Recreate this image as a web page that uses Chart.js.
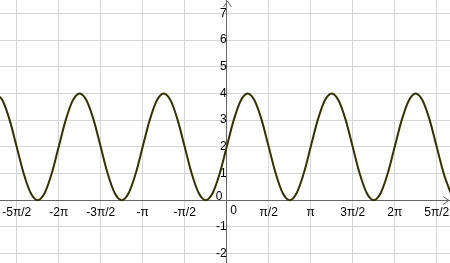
<!DOCTYPE html>
<html>
<head>
<meta charset="utf-8">
<script src="https://cdn.jsdelivr.net/npm/chart.js@4"></script>
<style>
html,body{margin:0;padding:0;background:#fff;}
#wrap{width:450px;height:263px;position:relative;}
</style>
</head>
<body>
<div id="wrap"><canvas id="c" width="450" height="263"></canvas></div>
<script>
const xValues = [
  -8.639,-8.378,-8.116,-7.854,-7.592,-7.330,-7.069,-6.807,-6.545,
  -6.283,-6.021,-5.760,-5.498,-5.236,-4.974,-4.712,-4.451,-4.189,-3.927,-3.665,-3.403,
  -3.142,-2.880,-2.618,-2.356,-2.094,-1.833,-1.571,-1.309,-1.047,-0.785,-0.524,-0.262,
  0,0.262,0.524,0.785,1.047,1.309,1.571,1.833,2.094,2.356,2.618,2.880,
  3.142,3.403,3.665,3.927,4.189,4.451,4.712,4.974,5.236,5.498,5.760,6.021,
  6.283,6.545,6.807,7.069,7.330,7.592,7.854,8.116,8.378
];
// y values of the curve at those positions
const yValues = [
  4,3.73,3,2,1,0.27,0,0.27,1,
  2,3,3.73,4,3.73,3,2,1,0.27,0,0.27,1,
  2,3,3.73,4,3.73,3,2,1,0.27,0,0.27,1,
  2,3,3.73,4,3.73,3,2,1,0.27,0,0.27,1,
  2,3,3.73,4,3.73,3,2,1,0.27,0,0.27,1,
  2,3,3.73,4,3.73,3,2,1,0.27
];
// axis ticks
const xTickValues = [-7.854,-6.283,-4.712,-3.142,-1.571,0,1.571,3.142,4.712,6.283,7.854];
const xTickLabels = ['-5π/2','-2π','-3π/2','-π','-π/2','','π/2','π','3π/2','2π','5π/2'];
const yTickValues = [-2,-1,0,1,2,3,4,5,6,7];
const yTickLabels = ['-2','-1','','1','2','3','4','5','6','7'];

const points = xValues.map((x, i) => ({x: x, y: yValues[i]}));

const AXIS_COLOR = '#666666';
const GRID_COLOR = '#d6d6d6';
const FONT = {family: '"Liberation Sans", Arial, sans-serif', size: 12};

function noPad(scale) {
  scale.paddingTop = 0; scale.paddingBottom = 0;
  scale.paddingLeft = 0; scale.paddingRight = 0;
}

const axisDecor = {
  id: 'axisDecor',
  afterDraw(chart) {
    const ctx = chart.ctx;
    const xs = chart.scales.x, ys = chart.scales.y;
    const ox = Math.round(xs.getPixelForValue(0)) + 0.5;
    const oy = Math.round(ys.getPixelForValue(0)) + 0.5;
    const right = chart.chartArea.right - 1;
    const top = chart.chartArea.top + 1;
    ctx.save();
    ctx.strokeStyle = AXIS_COLOR;
    ctx.lineWidth = 1;
    ctx.beginPath();
    ctx.moveTo(right - 6, oy - 4); ctx.lineTo(right, oy); ctx.lineTo(right - 6, oy + 4);
    ctx.moveTo(ox - 4, top + 6); ctx.lineTo(ox, top); ctx.lineTo(ox + 4, top + 6);
    ctx.stroke();
    ctx.fillStyle = '#000';
    ctx.font = '12px "Liberation Sans", Arial, sans-serif';
    ctx.textBaseline = 'middle';
    ctx.textAlign = 'center';
    ctx.fillText('0', ox + 6, oy + 10);
    ctx.textAlign = 'right';
    ctx.fillText('0', ox - 5, oy - 4);
    ctx.restore();
  }
};

new Chart(document.getElementById('c'), {
  type: 'scatter',
  data: {
    datasets: [{
      data: points,
      showLine: true,
      borderColor: '#333300',
      borderWidth: 2,
      pointRadius: 0,
      cubicInterpolationMode: 'monotone',
      fill: false
    }]
  },
  options: {
    responsive: false,
    animation: false,
    devicePixelRatio: 1,
    layout: {padding: 0},
    plugins: {legend: {display: false}, tooltip: {enabled: false}},
    scales: {
      x: {
        type: 'linear',
        min: -8.478, max: 8.351,
        position: {y: 0},
        afterBuildTicks(scale) { scale.ticks = xTickValues.map(v => ({value: v})); },
        afterFit: noPad,
        grid: {color: GRID_COLOR, drawTicks: false},
        border: {color: AXIS_COLOR},
        ticks: {
          autoSkip: false, maxRotation: 0, padding: 5, color: '#000', font: FONT,
          callback: (v, i) => xTickLabels[i]
        }
      },
      y: {
        type: 'linear',
        min: -2.35, max: 7.50,
        position: {x: 0},
        afterBuildTicks(scale) { scale.ticks = yTickValues.map(v => ({value: v})); },
        afterFit: noPad,
        grid: {color: GRID_COLOR, drawTicks: false},
        border: {color: AXIS_COLOR},
        ticks: {
          autoSkip: false, padding: 5, color: '#000', font: FONT,
          callback: (v, i) => yTickLabels[i]
        }
      }
    }
  },
  plugins: [axisDecor]
});
</script>
</body>
</html>
